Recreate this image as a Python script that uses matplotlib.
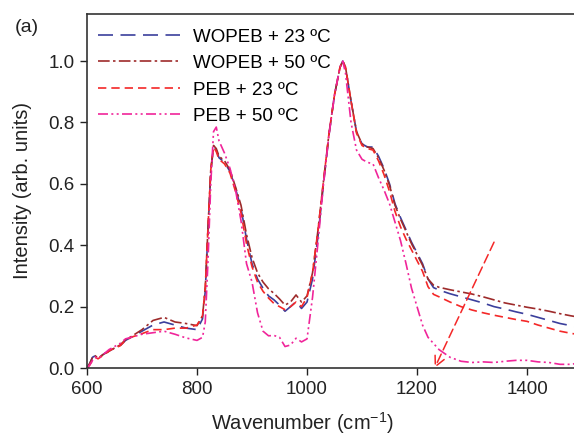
import matplotlib
matplotlib.use("Agg")
import matplotlib.pyplot as plt

plt.rcParams['font.family'] = ['Liberation Sans', 'DejaVu Sans']
plt.rcParams['mathtext.fontset'] = 'custom'
plt.rcParams['mathtext.rm'] = 'Liberation Sans'
plt.rcParams['mathtext.it'] = 'Liberation Sans'

# Raman spectra
wavenumber = [600, 605, 610, 615, 620, 630, 640, 650, 660, 670, 680, 700, 720, 740,
              760, 780, 800, 810, 815, 820, 825, 830, 835, 840, 850, 860, 870, 880,
              890, 900, 910, 920, 930, 940, 950, 960, 970, 980, 990, 1000, 1010, 1020,
              1030, 1040, 1050, 1060, 1065, 1070, 1080, 1090, 1100, 1110, 1120, 1130,
              1140, 1150, 1160, 1170, 1180, 1190, 1200, 1210, 1220, 1230, 1240, 1260,
              1280, 1300, 1320, 1340, 1360, 1380, 1400, 1420, 1440, 1460, 1480, 1490]

wopeb_23 = [0.0, 0.015, 0.035, 0.04, 0.032, 0.045, 0.055, 0.065, 0.072, 0.09, 0.1, 0.12,
            0.14, 0.15, 0.14, 0.13, 0.125, 0.16, 0.25, 0.45, 0.64, 0.72, 0.71, 0.685,
            0.67, 0.64, 0.585, 0.52, 0.42, 0.34, 0.29, 0.26, 0.235, 0.222, 0.205, 0.185,
            0.2, 0.216, 0.194, 0.215, 0.29, 0.43, 0.6, 0.76, 0.89, 0.98, 1.0, 0.98, 0.87,
            0.77, 0.73, 0.72, 0.72, 0.69, 0.65, 0.6, 0.535, 0.49, 0.45, 0.41, 0.375,
            0.34, 0.29, 0.262, 0.254, 0.242, 0.232, 0.222, 0.212, 0.2, 0.192, 0.183,
            0.175, 0.165, 0.155, 0.145, 0.138, 0.135]

wopeb_50 = [0.0, 0.015, 0.035, 0.04, 0.032, 0.045, 0.055, 0.065, 0.075, 0.092, 0.102, 0.125,
            0.155, 0.165, 0.15, 0.145, 0.138, 0.17, 0.26, 0.46, 0.645, 0.725, 0.715, 0.69,
            0.675, 0.645, 0.59, 0.53, 0.435, 0.36, 0.31, 0.28, 0.258, 0.243, 0.225, 0.205,
            0.215, 0.238, 0.215, 0.235, 0.31, 0.45, 0.61, 0.765, 0.89, 0.98, 1.0, 0.98,
            0.87, 0.77, 0.73, 0.72, 0.715, 0.685, 0.645, 0.595, 0.53, 0.485, 0.445, 0.405,
            0.37, 0.335, 0.29, 0.27, 0.263, 0.255, 0.248, 0.241, 0.232, 0.222, 0.212,
            0.205, 0.198, 0.192, 0.185, 0.177, 0.17, 0.167]

peb_23 = [0.0, 0.01, 0.025, 0.035, 0.03, 0.042, 0.055, 0.065, 0.072, 0.09, 0.1, 0.112,
          0.125, 0.125, 0.13, 0.13, 0.14, 0.17, 0.26, 0.46, 0.645, 0.72, 0.705, 0.68,
          0.665, 0.635, 0.575, 0.505, 0.405, 0.33, 0.28, 0.25, 0.228, 0.21, 0.2, 0.19,
          0.2, 0.215, 0.2, 0.23, 0.31, 0.45, 0.61, 0.765, 0.89, 0.98, 1.0, 0.98, 0.87,
          0.765, 0.725, 0.715, 0.71, 0.675, 0.63, 0.575, 0.51, 0.46, 0.42, 0.385, 0.35,
          0.315, 0.265, 0.24, 0.232, 0.215, 0.2, 0.189, 0.18, 0.172, 0.165, 0.158,
          0.152, 0.14, 0.13, 0.12, 0.113, 0.11]

peb_50 = [0.0, 0.01, 0.025, 0.035, 0.03, 0.045, 0.06, 0.07, 0.08, 0.095, 0.1, 0.11,
          0.115, 0.12, 0.11, 0.098, 0.09, 0.1, 0.15, 0.35, 0.6, 0.77, 0.785, 0.74,
          0.7, 0.65, 0.58, 0.48, 0.34, 0.28, 0.18, 0.12, 0.105, 0.106, 0.1, 0.07,
          0.075, 0.097, 0.085, 0.095, 0.23, 0.41, 0.6, 0.76, 0.89, 0.98, 1.0, 0.96, 0.8,
          0.71, 0.68, 0.67, 0.665, 0.62, 0.58, 0.535, 0.475, 0.415, 0.34, 0.26, 0.2,
          0.14, 0.1, 0.08, 0.06, 0.035, 0.022, 0.018, 0.02, 0.018, 0.022, 0.025,
          0.025, 0.02, 0.018, 0.012, 0.012, 0.015]

labels = ["WOPEB + 23 \u00baC", "WOPEB + 50 \u00baC", "PEB + 23 \u00baC", "PEB + 50 \u00baC"]

# dashed arrow pointing at the baseline
arrow_tail = (1340, 0.41)
arrow_head = (1232, 0.0)

fig = plt.figure(figsize=(5.74, 4.4), dpi=100)
ax = fig.add_axes([0.1516, 0.1636, 0.8528, 0.8057])

ax.plot(wavenumber, wopeb_23, color='#3b3f9c', lw=1.2, dashes=(9, 4.5), label=labels[0])
ax.plot(wavenumber, wopeb_50, color='#9e2b2b', lw=1.2, dashes=(7, 2, 1.5, 2), label=labels[1])
ax.plot(wavenumber, peb_23, color='#f42828', lw=1.2, dashes=(5, 3), label=labels[2])
ax.plot(wavenumber, peb_50, color='#f0259a', lw=1.2, dashes=(6, 2, 1.2, 2, 1.2, 2), label=labels[3])

ax.annotate("", xy=arrow_head, xytext=arrow_tail,
            arrowprops=dict(arrowstyle='->', color='#f42828', lw=1.1, linestyle=(0, (6, 3)),
                            mutation_scale=18, shrinkA=0, shrinkB=0))

ax.set_xlim(600, 1490)
ax.set_ylim(0, 1.155)
ax.set_xticks([600, 800, 1000, 1200, 1400])
ax.set_yticks([0.0, 0.2, 0.4, 0.6, 0.8, 1.0])
ax.set_yticklabels(["0.0", "0.2", "0.4", "0.6", "0.8", "1.0"])
ax.tick_params(direction='out', length=5, width=1, labelsize=13.5, colors='#222222', pad=4)
for s in ax.spines.values():
    s.set_linewidth(1.2)
    s.set_color('#333333')

ax.set_xlabel("Wavenumber (cm$^{\u2212 1}$)", fontsize=14.5, color='#222222')
ax.set_ylabel("Intensity (arb. units)", fontsize=14.5, color='#222222')
ax.xaxis.set_label_coords(0.441, -0.118)
ax.yaxis.set_label_coords(-0.112, 0.5)

ax.legend(loc='upper left', bbox_to_anchor=(-0.005, 0.995), frameon=False, fontsize=13.5,
          handlelength=4.4, handletextpad=0.7, labelspacing=0.5, borderaxespad=0.3)

fig.text(0.025, 0.928, "(a)", fontsize=14, color='#222222')

fig.savefig("out.png", dpi=100)
